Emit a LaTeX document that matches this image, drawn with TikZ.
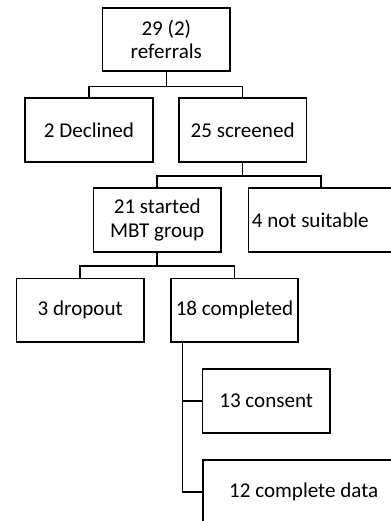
\documentclass[tikz,border=0pt]{standalone}
\usepackage{fontspec}
\setmainfont{Carlito}
\usetikzlibrary{positioning}

\tikzset{
  box/.style={draw, line width=1.2pt, minimum width=95.6pt, minimum height=47.6pt,
    inner sep=2pt, align=center, font=\fontsize{15.8}{17.3}\selectfont},
  link/.style={draw, line width=1.1pt}
}

\begin{document}
\begin{tikzpicture}[x=0.75pt,y=0.75pt,yscale=-1,xscale=1]
%set diagram to 391 x 521
\useasboundingbox (0,0) rectangle (391,521);
\clip (0,0) rectangle (391,521);

%Shape: Rectangle
\node[box] (ref) at (166.3,39.5) {29 (2)\\referrals};
%Shape: Rectangle
\node[box] (decl) at (89,130) {2 Declined};
%Shape: Rectangle
\node[box] (scr) at (242.6,130) {25 screened};
%Shape: Rectangle
\node[box] (mbt) at (157.2,220) {21 started\\MBT group};
%Shape: Rectangle
\node[box, anchor=west, text width=104pt, align=flush left, inner xsep=2.5pt] (unsuit) at (247.7,220) {4 not suitable};
%Shape: Rectangle
\node[box] (drop) at (80.2,310.3) {3 dropout};
%Shape: Rectangle
\node[box] (done) at (234.5,310.3) {18 completed};
%Shape: Rectangle
\node[box] (cons) at (266.2,401) {13 consent};
%Shape: Rectangle
\node[box, anchor=north west, minimum width=150.8pt] (data) at (202.3,459.3) {12 complete data};

%Straight Lines
\draw[link] (ref.south) -- ++(0,14.5) -| (decl.north);
\draw[link] (ref.south) -- ++(0,14.5) -| (scr.north);
%Straight Lines
\draw[link] (scr.south) -- ++(0,13.5) -| (mbt.north);
\draw[link] (scr.south) -- ++(0,13.5) -| (unsuit.north);
%Straight Lines
\draw[link] (mbt.south) -- ++(0,13.5) -| (drop.north);
\draw[link] (mbt.south) -- ++(0,13.5) -| (done.north);
%Straight Lines
\draw[link] ([xshift=9.5pt]done.south west) |- (cons.west);
\draw[link] ([xshift=9.5pt]done.south west) |- (data.west);

\end{tikzpicture}
\end{document}
